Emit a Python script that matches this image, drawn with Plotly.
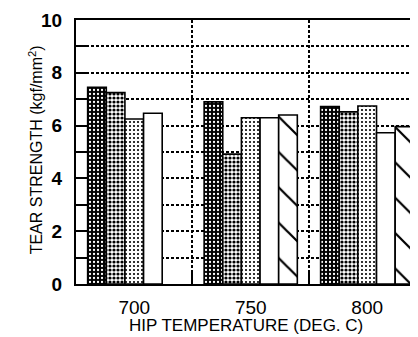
import plotly.graph_objects as go

categories = ["700", "750", "800"]
series_a = [7.45, 6.9, 6.72]   # dark dotted
series_b = [7.25, 4.92, 6.52]  # medium dotted
series_c = [6.25, 6.3, 6.74]   # light dotted
series_d = [6.47, 6.3, 5.73]   # white
series_e = [None, 6.4, 5.96]   # hatched

y_ticks = [0, 2, 4, 6, 8, 10]
y_ticktext = ["0", "2", "4", "6", "8", "10"]

FONT = "Liberation Sans, Arial, sans-serif"

styles = [
    dict(shape=".", bgcolor="black", fgcolor="white", size=4, solidity=0.25, fillmode="replace"),
    dict(shape=".", bgcolor="white", fgcolor="black", size=4, solidity=0.5, fillmode="replace"),
    dict(shape=".", bgcolor="white", fgcolor="black", size=4, solidity=0.22, fillmode="replace"),
    None,
    dict(shape="\\", bgcolor="white", fgcolor="black", size=25, solidity=0.09, fillmode="replace"),
]
values = [series_a, series_b, series_c, series_d, series_e]

fig = go.Figure()
for vals, pat in zip(values, styles):
    marker = dict(color="white", line=dict(color="black", width=1.6))
    if pat is not None:
        marker["pattern"] = pat
    fig.add_trace(go.Bar(x=categories, y=vals, marker=marker, showlegend=False))

# page body has an 8px margin, so the figure is offset by 8px right/down
fig.update_layout(
    width=410, height=329,
    margin=dict(l=68, r=0, t=12, b=53, autoexpand=False),
    paper_bgcolor="white", plot_bgcolor="white",
    barmode="group", bargap=0.2, bargroupgap=0,
    font=dict(family=FONT, color="black"),
    annotations=[
        dict(text="HIP TEMPERATURE (DEG. C)", xref="paper", yref="paper",
             x=0.497, y=-0.158, xanchor="center", yanchor="middle", showarrow=False,
             font=dict(size=17, family=FONT)),
        dict(text="TEAR STRENGTH (kgf/mm<sup>2</sup>)", xref="paper", yref="paper",
             x=-0.117, y=0.51, xanchor="center", yanchor="middle", showarrow=False,
             textangle=-90, font=dict(size=16, family=FONT)),
    ],
)
fig.update_xaxes(
    type="category", range=[-0.5, 2.436], automargin=False,
    tickson="boundaries", ticks="inside", ticklen=13, tickwidth=1.5, tickcolor="black",
    showline=True, linecolor="black", linewidth=2, mirror=True,
    showgrid=True, gridcolor="black", gridwidth=1.5, griddash="3px,2px",
    tickfont=dict(size=19, family=FONT),
    ticklabelstandoff=5,
)
fig.update_yaxes(
    range=[0, 10], tickvals=y_ticks, ticktext=y_ticktext, automargin=False,
    ticks="inside", ticklen=12, tickwidth=1.5, tickcolor="black",
    showline=True, linecolor="black", linewidth=2, mirror=False,
    showgrid=True, gridcolor="black", gridwidth=1.5, griddash="3px,2px",
    minor=dict(dtick=1, tick0=0, ticks="inside", ticklen=12, tickwidth=1.5, tickcolor="black",
               showgrid=True, gridcolor="black", gridwidth=1.5, griddash="3px,2px"),
    zeroline=False,
    tickfont=dict(size=19, family=FONT, weight="bold"),
    ticklabelstandoff=8,
)

fig.write_html("out.html")
